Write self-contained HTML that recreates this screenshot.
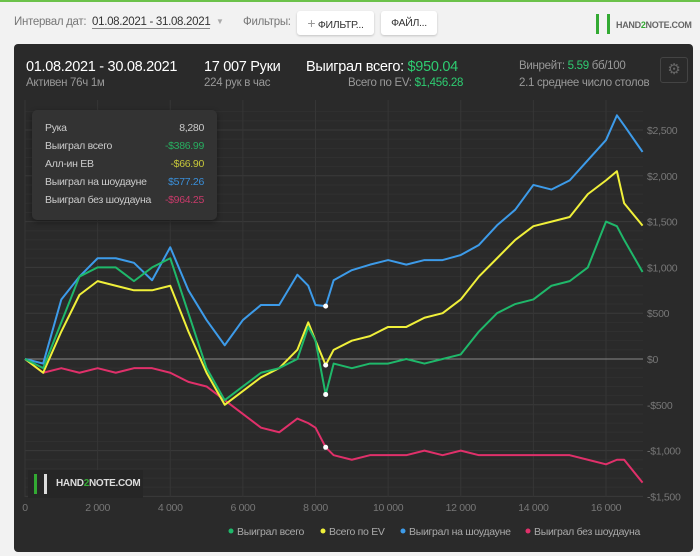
<!DOCTYPE html>
<html><head><meta charset="utf-8"><style>
*{margin:0;padding:0;box-sizing:border-box}
body{width:700px;height:556px;background:#f2f2f2;font-family:"Liberation Sans",sans-serif;position:relative;overflow:hidden;font-size:12px;letter-spacing:-0.3px}
.topline{position:absolute;left:0;top:0;width:700px;height:2px;background:#6cc24a}
.ab{position:absolute;white-space:nowrap}
.btn{position:absolute;background:#fff;border-radius:3px;box-shadow:0 1px 2px rgba(0,0,0,.2);font-size:10.5px;color:#333;text-align:center;line-height:24px;height:24px}
.panel{position:absolute;left:14px;top:44px;width:679px;height:508px;background:#2a2a2a;border-radius:4px}
</style></head><body>
<div class="topline"></div>
<div class="ab" style="left:14px;top:16px;color:#777;font-size:11.5px">Интервал дат:</div>
<div class="ab" style="left:92px;top:16px;color:#333;border-bottom:1px solid #888;font-size:11.5px">01.08.2021 - 31.08.2021</div>
<div class="ab" style="left:216px;top:17px;color:#aaa;font-size:8px">▼</div>
<div class="ab" style="left:243px;top:16px;color:#777;font-size:11.5px">Фильтры:</div>
<div class="btn" style="left:297px;top:11px;width:77px"><span style="color:#999;font-size:14px">+</span> ФИЛЬТР...</div>
<div class="btn" style="left:381px;top:11px;width:56px">ФАЙЛ...</div>
<div class="ab" style="left:596px;top:14px;width:14px;height:20px;border-left:3px solid #3a3;border-right:3px solid #3a3"></div>
<div class="ab" style="left:616px;top:20px;font-size:9px;font-weight:bold;color:#666">HAND<span style="color:#3a3">2</span>NOTE.COM</div>

<div class="panel"></div>
<div class="ab" style="left:26px;top:59px;color:#fff;font-size:14.5px">01.08.2021 - 30.08.2021</div>
<div class="ab" style="left:26px;top:77px;color:#999;font-size:11.5px">Активен 76ч 1м</div>
<div class="ab" style="left:204px;top:59px;color:#fff;font-size:14.5px">17 007 Руки</div>
<div class="ab" style="left:204px;top:77px;color:#999;font-size:11.5px">224 рук в час</div>
<div class="ab" style="left:306px;top:59px;color:#fff;font-size:14.5px">Выиграл всего: <span style="color:#2ecc71">$950.04</span></div>
<div class="ab" style="left:348px;top:77px;color:#999;font-size:11.5px">Всего по EV: <span style="color:#2ecc71">$1,456.28</span></div>
<div class="ab" style="left:519px;top:60px;color:#999;font-size:11.5px">Винрейт: <span style="color:#2ecc71">5.59</span> бб/100</div>
<div class="ab" style="left:519px;top:77px;color:#999;font-size:11.5px">2.1 среднее число столов</div>
<div class="ab" style="left:660px;top:57px;width:28px;height:26px;border:1px solid #444;border-radius:3px;color:#666;text-align:center;line-height:24px;font-size:15px">⚙</div>

<svg id="chart" class="ab" style="left:0;top:0;letter-spacing:-0.3px" width="700" height="556"></svg>

<div class="ab" style="left:32px;top:110px;width:185px;height:110px;background:#333;border-radius:5px;box-shadow:0 2px 6px rgba(0,0,0,.4);font-size:10.5px;color:#ccc">
<div class="ab" style="left:13px;top:12px">Рука</div><div class="ab" style="right:13px;top:12px">8,280</div>
<div class="ab" style="left:13px;top:30px">Выиграл всего</div><div class="ab" style="right:13px;top:30px;color:#27ae60">-$386.99</div>
<div class="ab" style="left:13px;top:48px">Алл-ин ЕВ</div><div class="ab" style="right:13px;top:48px;color:#c8c83a">-$66.90</div>
<div class="ab" style="left:13px;top:66px">Выиграл на шоудауне</div><div class="ab" style="right:13px;top:66px;color:#3a8fd9">$577.26</div>
<div class="ab" style="left:13px;top:84px">Выиграл без шоудауна</div><div class="ab" style="right:13px;top:84px;color:#c83a6a">-$964.25</div>
</div>

<div class="ab" style="left:28px;top:470px;width:115px;height:28px;background:#262626">
<div class="ab" style="left:6px;top:4px;width:13px;height:20px;border-left:3px solid #3a3;border-right:3px solid #ddd"></div>
<div class="ab" style="left:28px;top:8px;font-size:10px;font-weight:bold;color:#ddd">HAND<span style="color:#3a3">2</span>NOTE.COM</div></div>

<script>
const hands=[0,500,1000,1500,2000,2500,3000,3500,4000,4500,5000,5500,6000,6500,7000,7500,7800,8000,8280,8500,9000,9500,10000,10500,11000,11500,12000,12500,13000,13500,14000,14500,15000,15500,16000,16300,16500,17007];
const totalWon=[0,-100,400,900,1000,1000,850,1000,1100,500,-100,-450,-300,-150,-100,0,350,200,-387,-50,-100,-50,-50,0,-50,0,50,300,500,600,650,800,850,1000,1500,1450,1300,950];
const evWon=[0,-150,300,700,850,800,750,750,800,300,-150,-500,-350,-200,-100,100,400,200,-67,100,200,250,350,350,450,500,650,900,1100,1300,1450,1500,1550,1800,1950,2050,1700,1456];
const sdWon=[0,-50,650,900,1100,1100,1050,860,1220,750,425,150,425,590,590,920,800,590,577,860,970,1030,1080,1030,1080,1080,1135,1245,1460,1630,1900,1850,1950,2170,2390,2660,2550,2260];
const nsdWon=[0,-150,-100,-150,-100,-150,-100,-100,-150,-250,-300,-450,-600,-750,-800,-650,-700,-750,-964,-1050,-1100,-1050,-1050,-1050,-1000,-1050,-1000,-1050,-1050,-1050,-1050,-1050,-1050,-1100,-1150,-1100,-1100,-1350];
const xTicks=[0,2000,4000,6000,8000,10000,12000,14000,16000];
const xTickLabels=["0","2 000","4 000","6 000","8 000","10 000","12 000","14 000","16 000"];
const yTicks=[-1500,-1000,-500,0,500,1000,1500,2000,2500];
const yTickLabels=["-$1,500","-$1,000","-$500","$0","$500","$1,000","$1,500","$2,000","$2,500"];
const legendNames=["Выиграл всего","Всего по EV","Выиграл на шоудауне","Выиграл без шоудауна"];

const svg=document.getElementById('chart');const NS='http://www.w3.org/2000/svg';
const X=v=>25+v*(606-25)/16000, Y=v=>359-v*(359-130)/2500;
function mk(t,a){const e=document.createElementNS(NS,t);for(const k in a)e.setAttribute(k,a[k]);svg.appendChild(e);return e;}
for(let v=-1500;v<=2700;v+=100){const l=mk('line',{x1:25,x2:643,y1:Y(v),y2:Y(v),stroke:v%500===0?'#3a3a3a':'#303030','stroke-width':1});

}
xTicks.forEach((t,i)=>{const l=mk('line',{x1:X(t),x2:X(t),y1:100,y2:497,stroke:'#363636'});


const tx=mk('text',{x:X(t),y:511,fill:'#777','font-size':10.5,'text-anchor':'middle','font-family':'Liberation Sans'});tx.textContent=xTickLabels[i];

});
yTicks.forEach((t,i)=>{const tx=mk('text',{x:647,y:Y(t)+4,fill:'#777','font-size':10.5,'font-family':'Liberation Sans'});tx.textContent=yTickLabels[i];

});
const z=mk('line',{x1:25,x2:643,y1:Y(0),y2:Y(0),stroke:'#888'});


const series=[[nsdWon,'#e0306a','series-non-showdown'],[sdWon,'#3d9be9','series-showdown'],[evWon,'#f0f03a','series-ev'],[totalWon,'#1fb86a','series-total']];
series.forEach(([d,c,n])=>{const p=mk('polyline',{points:d.map((v,i)=>X(hands[i])+','+Y(v)).join(' '),fill:'none',stroke:c,'stroke-width':2,'stroke-linejoin':'round'});


const hi=hands.indexOf(8280);const dot=mk('circle',{cx:X(8280),cy:Y(d[hi]),r:2.5,fill:'#fff'});

});
const lc=['#1fb86a','#f0f03a','#3d9be9','#e0306a'];const lx=[231,323,403,528];
legendNames.forEach((n,i)=>{const c=mk('circle',{cx:lx[i],cy:531,r:2.5,fill:lc[i]});


const t=mk('text',{x:lx[i]+6,y:535,fill:'#aaa','font-size':10.5,'font-family':'Liberation Sans'});t.textContent=n;

});
</script>
</body></html>
